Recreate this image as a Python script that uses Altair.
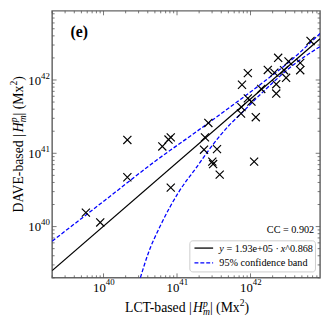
import altair as alt
import pandas as pd

# ---------------- data ----------------
lct = [2.11e40, 6.31e40, 7.66e40, 8.22e40, 2.67e41, 2.40e41, 2.33e41, 3.50e41,
       3.02e41, 3.10e41, 1.12e42, 3.81e41, 8.22e40, 2.11e40, 5.75e39, 9.02e39,
       7.53e41, 7.43e41, 1.18e42, 7.66e41, 9.20e41, 9.20e41, 1.03e42, 1.40e42,
       1.72e42, 2.38e42, 2.11e42, 2.24e42, 2.24e42, 2.86e42, 3.05e42, 3.29e42,
       4.75e42, 4.75e42, 6.56e42]
dave = [1.52e41, 1.24e41, 1.54e41, 1.65e41, 2.59e41, 1.65e41, 1.12e41, 1.14e41,
        7.69e40, 7.13e40, 7.69e40, 5.12e40, 3.40e40, 4.71e40, 1.55e40, 1.14e40,
        4.26e41, 3.49e41, 3.11e41, 8.61e41, 1.24e42, 5.61e41, 5.07e41, 7.55e41,
        1.37e42, 2.01e42, 1.26e42, 8.75e41, 6.53e41, 1.36e42, 1.07e42, 1.79e42,
        1.71e42, 1.36e42, 3.41e42]

fit_x = [2.0e39, 8.85e42]
fit_y = [2.51e39, 3.66e42]

band_up_x = [2.0e39, 1.03e40, 5.30e40, 1.81e41, 6.18e41, 1.40e42, 3.90e42, 8.85e42]
band_up_y = [6.32e39, 2.26e40, 8.09e40, 1.95e41, 4.81e41, 8.87e41, 2.01e42, 4.32e42]
band_lo_x = [3.17e40, 4.10e40, 5.86e40, 1.08e41, 1.81e41, 3.02e41, 5.02e41, 7.59e41, 1.40e42, 3.90e42, 8.85e42]
band_lo_y = [2.0e39, 4.44e39, 1.0e40, 3.07e40, 6.27e40, 1.28e41, 2.36e41, 3.55e41, 6.53e41, 1.63e42, 2.86e42]

major_ticks = [1e40, 1e41, 1e42]
major_exps = ["40", "41", "42"]
minor_ticks = [2e39, 3e39, 4e39, 5e39, 6e39, 7e39, 8e39, 9e39,
               2e40, 3e40, 4e40, 5e40, 6e40, 7e40, 8e40, 9e40,
               2e41, 3e41, 4e41, 5e41, 6e41, 7e41, 8e41, 9e41,
               2e42, 3e42, 4e42, 5e42, 6e42, 7e42, 8e42]

fit_label = ["y", " = 1.93e+05 \u00b7 ", "x", "^0.868"]
band_label = "95% confidence band"
cc_text = "CC = 0.902"
panel_label = "(e)"

# ---------------- layout ----------------
W, H = 273, 272
FONT = "Liberation Serif"
xs = alt.Scale(type="log", domain=[2.0e39, 8.85e42], nice=False)
ys = alt.Scale(type="log", domain=[2.0e39, 8.77e42], nice=False)
dummy = pd.DataFrame({"d": [0]})

REG = {' ': .25, '(': .333, ')': .333, '-': .333, '|': .2, '.': .25, '=': .564, '+': .564,
       '\u00b7': .25, '^': .469, '%': .833, 'A': .722, 'B': .667, 'C': .667, 'D': .722,
       'E': .611, 'L': .611, 'M': .889, 'T': .611, 'V': .722, 'H': .722, 'a': .444, 'b': .5,
       'c': .444, 'd': .5, 'e': .444, 'f': .333, 'i': .278, 'n': .5, 'o': .5, 's': .389,
       'x': .5, 'y': .5, 'm': .778, 'p': .5}
ITA = {'H': .722, 'm': .722, 'p': .5, 'x': .444, 'y': .444}


def tw(s, italic, size):
    tab = ITA if italic else REG
    return sum(tab.get(c, REG.get(c, .5)) for c in s) * size


def text_pieces(pieces, x0, y0, angle=0):
    """pieces: (text, italic, size, dy, advance)"""
    total = 0
    for t, it, sz, dy, adv in pieces:
        if adv:
            total += tw(t, it, sz)
    layers = []
    pos = 0
    for t, it, sz, dy, adv in pieces:
        lead = len(t) - len(t.lstrip(" "))
        core = t.strip(" ")
        off = pos + tw(" " * lead, it, sz)
        kw = dict(text=core, align="left", baseline="alphabetic", dx=off, dy=dy,
                  font=FONT, fontSize=sz, fontStyle="italic" if it else "normal",
                  color="black")
        if angle:
            kw["angle"] = angle
        layers.append(alt.Chart(dummy).mark_text(**kw).encode(
            x=alt.value(x0), y=alt.value(y0)))
        if adv:
            pos += tw(t, it, sz)
    return layers, total


def title_pieces(prefix):
    return [(prefix, False, 14, 0, True),
            ("H", True, 14, 0, True),
            ("p", True, 9.8, -5.5, False),
            ("m", True, 9.8, 3, True),
            ("| (Mx", False, 14, 0, True),
            ("2", False, 9.8, -6, True),
            (")", False, 14, 0, True)]


layers = []

# ticks (inward, all four sides)
tick_color = "#555"
for vals, L in [(major_ticks, 4.5), (minor_ticks, 2.5)]:
    tdf = pd.DataFrame({"v": vals})
    base = alt.Chart(tdf).mark_rule(color=tick_color, strokeWidth=0.8)
    layers.append(base.encode(x=alt.X("v:Q", scale=xs, axis=None), y=alt.value(H), y2=alt.value(H - L)))
    layers.append(base.encode(x=alt.X("v:Q", scale=xs, axis=None), y=alt.value(0), y2=alt.value(L)))
    layers.append(base.encode(y=alt.Y("v:Q", scale=ys, axis=None), x=alt.value(0), x2=alt.value(L)))
    layers.append(base.encode(y=alt.Y("v:Q", scale=ys, axis=None), x=alt.value(W), x2=alt.value(W - L)))

# tick labels
lab = pd.DataFrame({"v": major_ticks, "e": major_exps, "b": ["10"] * 3})
layers.append(alt.Chart(lab).mark_text(align="right", baseline="alphabetic", dx=2.3, font=FONT,
                                       fontSize=13, color="black").encode(
    x=alt.X("v:Q", scale=xs, axis=None), y=alt.value(H + 14), text="b:N"))
layers.append(alt.Chart(lab).mark_text(align="left", baseline="alphabetic", dx=2.3, font=FONT,
                                       fontSize=9, color="black").encode(
    x=alt.X("v:Q", scale=xs, axis=None), y=alt.value(H + 7), text="e:N"))
layers.append(alt.Chart(lab).mark_text(align="right", baseline="alphabetic", dy=5, font=FONT,
                                       fontSize=13, color="black").encode(
    y=alt.Y("v:Q", scale=ys, axis=None), x=alt.value(-11.3), text="b:N"))
layers.append(alt.Chart(lab).mark_text(align="left", baseline="alphabetic", dy=-1.5, font=FONT,
                                       fontSize=9, color="black").encode(
    y=alt.Y("v:Q", scale=ys, axis=None), x=alt.value(-11.3), text="e:N"))

# confidence band
bdf = pd.DataFrame({"x": band_up_x + band_lo_x, "y": band_up_y + band_lo_y,
                    "s": ["up"] * len(band_up_x) + ["lo"] * len(band_lo_x)})
layers.append(alt.Chart(bdf).mark_line(color="#0000ff", strokeWidth=1.3, strokeDash=[4, 2], clip=True,
                                       interpolate="monotone").encode(
    x=alt.X("x:Q", scale=xs, axis=None), y=alt.Y("y:Q", scale=ys, axis=None), detail="s:N"))

# fit line
fdf = pd.DataFrame({"x": fit_x, "y": fit_y})
layers.append(alt.Chart(fdf).mark_line(color="black", strokeWidth=1.3, clip=True).encode(
    x=alt.X("x:Q", scale=xs, axis=None), y=alt.Y("y:Q", scale=ys, axis=None)))

# scatter points
pdf = pd.DataFrame({"lct": lct, "dave": dave})
layers.append(alt.Chart(pdf).mark_point(shape="M-1,-1L1,1M-1,1L1,-1", size=68, filled=False,
                                         color="black", strokeWidth=1.2, opacity=1).encode(
    x=alt.X("lct:Q", scale=xs, axis=None), y=alt.Y("dave:Q", scale=ys, axis=None)))

# panel label and CC
layers.append(alt.Chart(dummy).mark_text(text=panel_label, align="left", baseline="alphabetic",
                                         font="Liberation Serif", fontSize=16, fontWeight=700,
                                         color="black").encode(
    x=alt.value(18.7), y=alt.value(27)))
layers.append(alt.Chart(dummy).mark_text(text=cc_text, align="right", baseline="alphabetic", font=FONT,
                                         fontSize=10.4, color="black").encode(
    x=alt.value(W - 6), y=alt.value(H - 46)))

# legend
lx0, lx1 = 140.3, W - 4.7
ly1 = H - 6
ly0 = ly1 - 31.7
layers.append(alt.Chart(dummy).mark_rect(fill="white", fillOpacity=0.8, stroke="#cccccc", strokeWidth=1,
                                         cornerRadius=3).encode(
    x=alt.value(lx0), x2=alt.value(lx1), y=alt.value(ly0), y2=alt.value(ly1)))
r1 = ly1 - 24.3
r2 = ly1 - 9.3
layers.append(alt.Chart(dummy).mark_rule(color="black", strokeWidth=1.3).encode(
    x=alt.value(lx0 + 4.7), x2=alt.value(lx0 + 23.7), y=alt.value(r1)))
layers.append(alt.Chart(dummy).mark_rule(color="#0000ff", strokeWidth=1.3, strokeDash=[4, 2]).encode(
    x=alt.value(lx0 + 4.7), x2=alt.value(lx0 + 23.7), y=alt.value(r2)))
leg1, _ = text_pieces([(fit_label[0], True, 10.4, 0, True),
                       (fit_label[1], False, 10.4, 0, True),
                       (fit_label[2], True, 10.4, 0, True),
                       (fit_label[3], False, 10.4, 0, True)], lx0 + 30, r1 + 3.6)
layers += leg1
leg2, _ = text_pieces([(band_label, False, 10.4, 0, True)], lx0 + 30, r2 + 3.6)
layers += leg2

# axis titles
xp = title_pieces("LCT-based |")
_, xt = text_pieces(xp, 0, 0)
xl, _ = text_pieces(xp, W / 2 + 1 - xt / 2, H + 35)
layers += xl
yp = title_pieces("DAVE-based |")
_, yt = text_pieces(yp, 0, 0)
yl, _ = text_pieces(yp, -30, H / 2 + yt / 2, angle=270)
layers += yl

chart = alt.layer(*layers).properties(
    width=W, height=H,
    padding={"left": 45, "top": 0, "right": 5, "bottom": 37},
    autosize=alt.AutoSizeParams(type="none"),
).configure_view(stroke="#666666", strokeWidth=1.5)

chart.save("out.html", embed_options={"renderer": "svg", "actions": False})
